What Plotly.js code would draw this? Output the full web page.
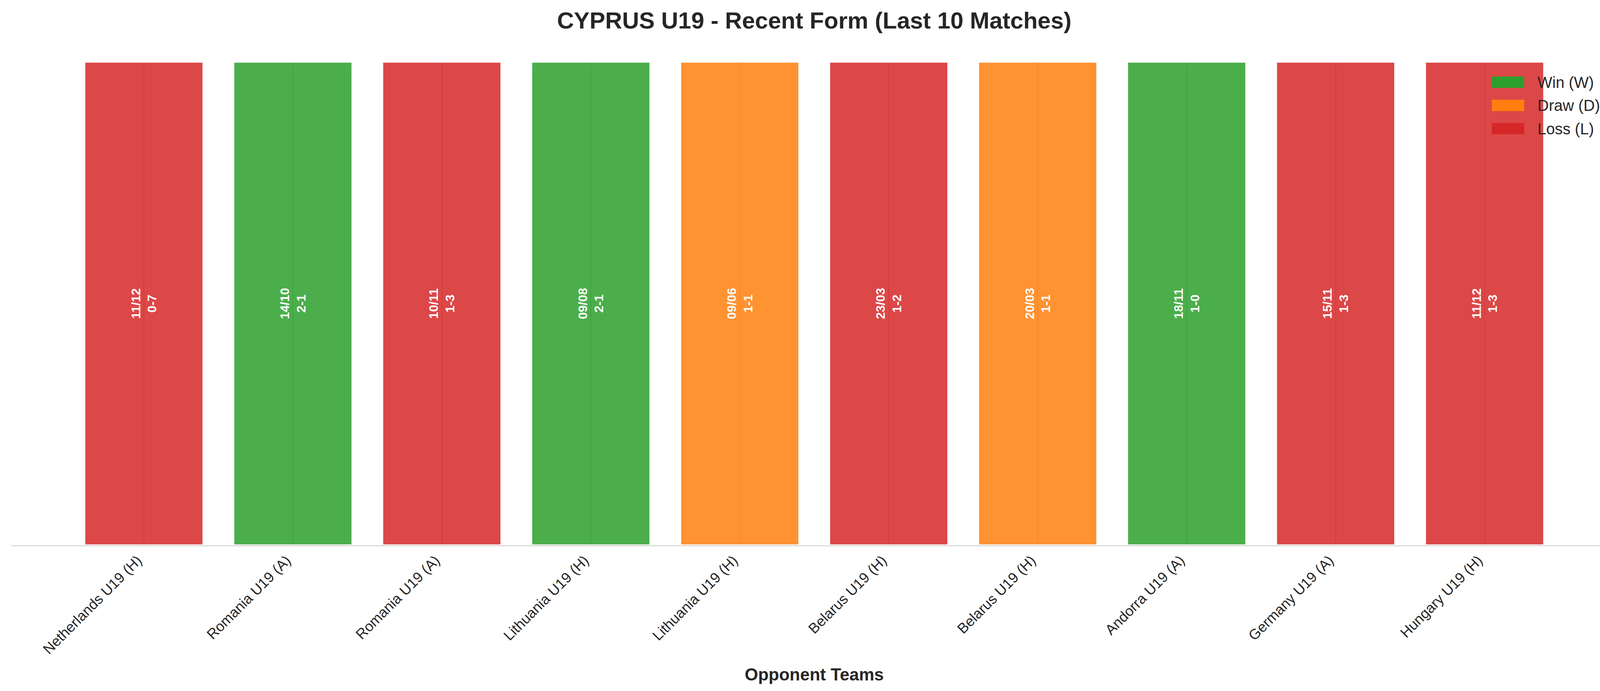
<!DOCTYPE html>
<html>
<head>
<meta charset="utf-8">
<script src="https://cdn.plot.ly/plotly-3.0.1.min.js"></script>
<style>
  html, body { margin: 0; padding: 0; background: #ffffff; overflow: hidden; }
  #myDiv { width: 4169px; height: 1770px; }
</style>
</head>
<body>
<div id="myDiv"></div>
<script>
// last 10 matches, oldest on the left
var opponents = ['Netherlands U19 (H)', 'Romania U19 (A)', 'Romania U19 (A)', 'Lithuania U19 (H)',
                 'Lithuania U19 (H)', 'Belarus U19 (H)', 'Belarus U19 (H)', 'Andorra U19 (A)',
                 'Germany U19 (A)', 'Hungary U19 (H)'];
var dates   = ['11/12', '14/10', '10/11', '09/08', '09/06', '23/03', '20/03', '18/11', '15/11', '11/12'];
var scores  = ['0-7', '2-1', '1-3', '2-1', '1-1', '1-2', '1-1', '1-0', '1-3', '1-3'];
var results = ['L', 'W', 'L', 'W', 'D', 'L', 'D', 'W', 'L', 'L'];

var resultColors = {W: '#2ca02c', D: '#ff7f0e', L: '#d62728'};
var legendKeys   = ['W', 'D', 'L'];
var legendNames  = ['Win (W)', 'Draw (D)', 'Loss (L)'];

var FONT = 'Liberation Sans, Arial, sans-serif';
var W = 4169, H = 1770;
var ml = 29, mr = 29, mt = 158, mb = 373;
var plotW = W - ml - mr, plotH = H - mt - mb;

var xs = [], heights = [], labels = [], colors = [];
for (var i = 0; i < opponents.length; i++) {
    xs.push(i);
    heights.push(1);
    labels.push(dates[i] + '<br>' + scores[i]);
    colors.push(resultColors[results[i]]);
}

var data = [{
    type: 'bar',
    x: xs,
    y: heights,
    width: 0.8,
    text: labels,
    textposition: 'inside',
    insidetextanchor: 'middle',
    textangle: -90,
    textfont: {family: FONT, size: 32, color: '#ffffff', weight: 'bold'},
    marker: {
        color: colors,
        opacity: 0.85,
        line: {color: '#ffffff', width: 5}
    },
    hoverinfo: 'skip',
    showlegend: false
}];

// hand made legend, matplotlib style patches
function px2x(px) { return (px - ml) / plotW; }
function px2y(py) { return (H - mb - py) / plotH; }

var shapes = [], annotations = [];
for (var k = 0; k < legendKeys.length; k++) {
    var cy = 210.5 + k * 59.5;
    shapes.push({
        type: 'rect', xref: 'paper', yref: 'paper',
        x0: px2x(3819), x1: px2x(3902),
        y0: px2y(cy + 14.5), y1: px2y(cy - 14.5),
        fillcolor: resultColors[legendKeys[k]],
        line: {width: 0}
    });
    annotations.push({
        xref: 'paper', yref: 'paper',
        x: px2x(3934), y: px2y(cy),
        xanchor: 'left', yanchor: 'middle',
        text: legendNames[k], showarrow: false,
        font: {family: FONT, size: 40, color: '#262626'}
    });
}

var layout = {
    width: W,
    height: H,
    margin: {l: ml, r: mr, t: mt, b: mb, pad: 0},
    paper_bgcolor: '#ffffff',
    plot_bgcolor: '#ffffff',
    font: {family: FONT, color: '#262626'},
    title: {
        text: 'CYPRUS U19 - Recent Form (Last 10 Matches)',
        font: {family: FONT, size: 60, weight: 'bold', color: '#262626'},
        x: 0.5, xanchor: 'center',
        y: 1 - 52 / H, yanchor: 'middle', yref: 'container'
    },
    xaxis: {
        range: [-0.89, 9.89],
        tickmode: 'array',
        tickvals: xs,
        ticktext: opponents,
        tickangle: -45,
        tickfont: {family: FONT, size: 37, color: '#262626'},
        ticklabelshift: -16,
        ticks: '',
        showgrid: true,
        gridcolor: '#d4d4d4',
        gridwidth: 3,
        zeroline: false,
        showline: true,
        linecolor: '#cccccc',
        linewidth: 2,
        automargin: false,
        title: {
            text: 'Opponent Teams',
            font: {family: FONT, size: 44, weight: 'bold', color: '#262626'},
            standoff: 30
        }
    },
    yaxis: {
        range: [0, 1],
        visible: false,
        fixedrange: true
    },
    shapes: shapes,
    annotations: annotations,
    bargap: 0.2
};

Plotly.newPlot('myDiv', data, layout, {displayModeBar: false, staticPlot: true});
</script>
</body>
</html>
